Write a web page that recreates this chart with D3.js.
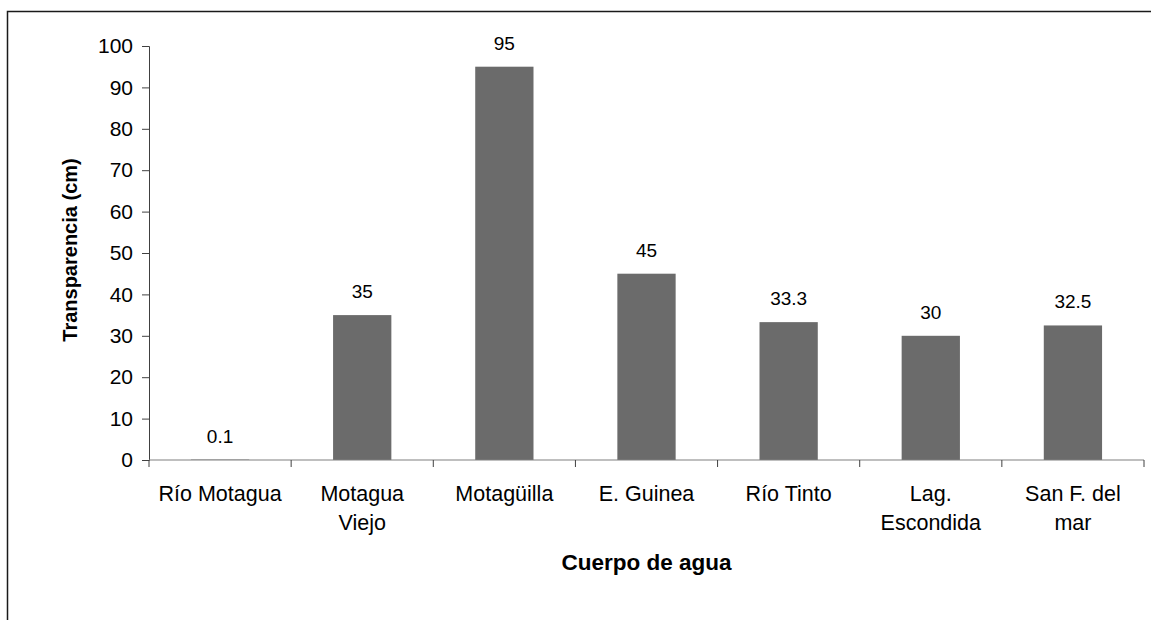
<!DOCTYPE html>
<html>
<head>
<meta charset="utf-8">
<script src="https://cdn.jsdelivr.net/npm/d3@7"></script>
<style>
  html, body { margin: 0; padding: 0; background: #fff; }
  svg { display: block; font-family: "Liberation Sans", Arial, sans-serif; }
</style>
</head>
<body>
<svg id="chart" width="1151" height="620"></svg>
<script>
// Transparencia por cuerpo de agua
const categories = [
  ["Río Motagua"],
  ["Motagua", "Viejo"],
  ["Motagüilla"],
  ["E. Guinea"],
  ["Río Tinto"],
  ["Lag.", "Escondida"],
  ["San F. del", "mar"]
];
const values = [0.1, 35, 95, 45, 33.3, 30, 32.5];
const valueLabels = ["0.1", "35", "95", "45", "33.3", "30", "32.5"];
const yTicks = [0, 10, 20, 30, 40, 50, 60, 70, 80, 90, 100];

const svg = d3.select("#chart");
const margin = { left: 149, right: 1144, top: 46, bottom: 460 };

// outer frame (only top and left edges visible within the window)
svg.append("path")
  .attr("d", "M7.5,620 V11.5 H1151")
  .attr("fill", "none")
  .attr("stroke", "#1a1a1a")
  .attr("stroke-width", 1.5);

const keys = categories.map((c, i) => i);
const x = d3.scaleBand().domain(keys).range([margin.left, margin.right]).paddingInner(0.59).paddingOuter(0.295);
const xOuter = d3.scaleBand().domain(keys).range([margin.left, margin.right]);
const y = d3.scaleLinear().domain([0, 100]).range([margin.bottom, margin.top]);

// bars
svg.append("g").selectAll("rect")
  .data(values)
  .join("rect")
  .attr("x", (d, i) => x(i))
  .attr("width", x.bandwidth())
  .attr("y", d => y(d))
  .attr("height", d => y(0) - y(d))
  .attr("fill", "#6b6b6b");

// value labels
svg.append("g").selectAll("text")
  .data(values)
  .join("text")
  .attr("x", (d, i) => x(i) + x.bandwidth() / 2)
  .attr("y", d => y(d) - 17)
  .attr("text-anchor", "middle")
  .attr("font-size", 19)
  .attr("fill", "#000")
  .text((d, i) => valueLabels[i]);

// y axis
const yAxis = svg.append("g")
  .attr("transform", `translate(${margin.left},0)`)
  .call(d3.axisLeft(y).tickValues(yTicks).tickSize(7).tickPadding(9).tickFormat(d3.format("d")));
yAxis.select(".domain").attr("stroke", "#404040");
yAxis.selectAll(".tick line").attr("stroke", "#404040");
yAxis.selectAll("text").attr("font-size", 21).attr("fill", "#000").attr("font-family", "Liberation Sans, Arial, sans-serif");

// x axis: baseline with ticks at category boundaries
const xAxis = svg.append("g").attr("transform", `translate(0,${margin.bottom})`);
xAxis.append("line")
  .attr("x1", margin.left).attr("x2", margin.right)
  .attr("stroke", "#808080").attr("stroke-width", 1.2);
const bounds = keys.map(i => xOuter(i)).concat([margin.right]);
xAxis.selectAll("line.tick")
  .data(bounds)
  .join("line")
  .attr("class", "tick")
  .attr("x1", d => d).attr("x2", d => d)
  .attr("y1", 0).attr("y2", 7)
  .attr("stroke", "#404040");

// category labels
const catG = svg.append("g");
categories.forEach((lines, i) => {
  const cx = xOuter(i) + xOuter.bandwidth() / 2;
  const t = catG.append("text")
    .attr("x", cx)
    .attr("y", 501)
    .attr("text-anchor", "middle")
    .attr("font-size", 21.5)
    .attr("fill", "#000");
  lines.forEach((ln, j) => {
    t.append("tspan")
      .attr("x", cx)
      .attr("dy", j === 0 ? 0 : 29)
      .text(ln);
  });
});

// axis titles
svg.append("text")
  .attr("x", (margin.left + margin.right) / 2)
  .attr("y", 570)
  .attr("text-anchor", "middle")
  .attr("font-size", 22.5)
  .attr("font-weight", "bold")
  .text("Cuerpo de agua");

svg.append("text")
  .attr("transform", `translate(77,250) rotate(-90)`)
  .attr("text-anchor", "middle")
  .attr("font-size", 20)
  .attr("font-weight", "bold")
  .text("Transparencia (cm)");
</script>
</body>
</html>
